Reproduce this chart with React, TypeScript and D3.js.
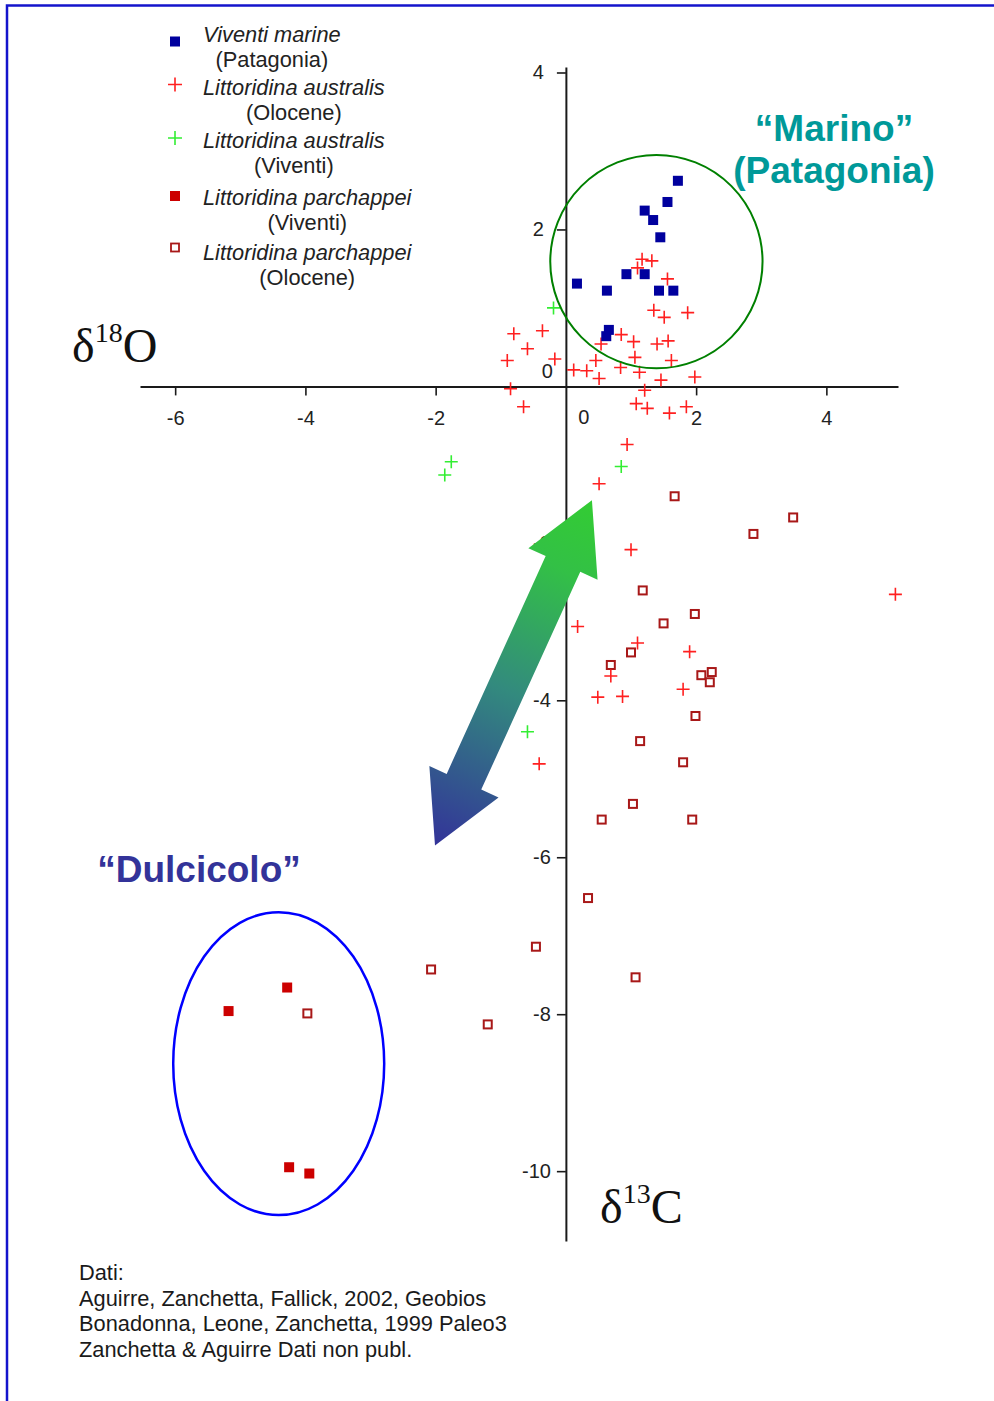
import { useEffect, useRef } from "react";
import * as d3 from "d3";

type Pt = [number, number];

// δ13C (x), δ18O (y)
const viventiMarine: Pt[] = [
  [1.72, 2.62], [1.56, 2.35], [1.21, 2.24], [1.34, 2.12], [1.45, 1.9],
  [0.93, 1.43], [1.21, 1.43], [0.17, 1.31], [0.63, 1.22], [1.43, 1.22],
  [1.65, 1.22], [0.66, 0.72], [0.62, 0.64],
];

const australisOlocene: Pt[] = [
  [1.17, 1.62], [1.32, 1.6], [1.1, 1.51], [1.56, 1.37], [1.35, 0.97],
  [1.51, 0.88], [1.87, 0.94], [-0.8, 0.67], [-0.36, 0.71], [-0.59, 0.48],
  [-0.9, 0.33], [-0.17, 0.35], [-0.85, -0.03], [-0.65, -0.26], [0.85, 0.66],
  [1.04, 0.57], [0.54, 0.54], [1.4, 0.54], [1.57, 0.58], [0.46, 0.33],
  [1.06, 0.37], [1.62, 0.33], [0.12, 0.21], [0.32, 0.2], [0.51, 0.1],
  [0.84, 0.24], [1.13, 0.18], [1.46, 0.08], [1.98, 0.12], [1.21, -0.05],
  [1.08, -0.22], [1.25, -0.28], [1.59, -0.34], [1.85, -0.26], [0.94, -0.74],
  [0.51, -1.24], [1.0, -2.08], [0.18, -3.06], [1.1, -3.27], [1.9, -3.38],
  [0.69, -3.69], [1.8, -3.86], [0.49, -3.96], [0.87, -3.95], [-0.41, -4.81],
  [5.06, -2.65],
];

const australisViventi: Pt[] = [
  [-0.19, 1.0], [-1.76, -0.96], [-1.86, -1.13], [0.85, -1.02], [-0.59, -4.4],
];

const parchappeiViventi: Pt[] = [
  [-4.28, -7.66], [-5.18, -7.96], [-4.25, -9.95], [-3.94, -10.03],
];

const parchappeiOlocene: Pt[] = [
  [1.67, -1.4], [1.18, -2.6], [1.98, -2.9], [1.5, -3.02], [1.0, -3.39],
  [0.69, -3.55], [2.08, -3.68], [2.24, -3.64], [2.21, -3.77], [1.99, -4.2],
  [1.14, -4.52], [1.8, -4.79], [1.03, -5.32], [0.55, -5.52], [1.94, -5.52],
  [2.88, -1.88], [3.49, -1.67], [0.34, -6.52], [-0.46, -7.14], [-2.07, -7.43],
  [1.07, -7.53], [-1.2, -8.13], [-3.97, -7.99],
];

const legendNames = [
  "Viventi marine",
  "Littoridina australis",
  "Littoridina australis",
  "Littoridina parchappei",
  "Littoridina parchappei",
];
const legendSubs = ["(Patagonia)", "(Olocene)", "(Viventi)", "(Viventi)", "(Olocene)"];
const legendKinds = ["blueSq", "redCross", "greenCross", "redSq", "openSq"];

const xTicks = [-6, -4, -2, 2, 4];
const yTicks = [4, 2, -2, -4, -6, -8, -10];
const xExtent: Pt = [-6.54, 5.1];
const yExtent: Pt = [4.07, -10.89];

// annotations in data units
const marineCircle = { cx: 1.39, cy: 1.59, rx: 1.63, ry: 1.36 };
const freshEllipse = { cx: -4.41, cy: -8.63, rx: 1.62, ry: 1.93 };
const arrowFrom: Pt = [-2.01, -5.85];
const arrowTo: Pt = [0.4, -1.45];

const sources = [
  "Dati:",
  "Aguirre, Zanchetta, Fallick, 2002, Geobios",
  "Bonadonna, Leone, Zanchetta, 1999 Paleo3",
  "Zanchetta & Aguirre Dati non publ.",
];

const SANS = "'Liberation Sans', Arial, sans-serif";
const SERIF = "'Liberation Serif', 'Times New Roman', serif";

const C = {
  blue: "#00009e",
  red: "#ff2020",
  green: "#33ee33",
  darkRed: "#cc0000",
  openRed: "#a81818",
  axis: "#1a1a1a",
};

const App = () => {
  const svgRef = useRef<SVGSVGElement | null>(null);

  useEffect(() => {
    document.body.style.margin = "0";
    const width = 994;
    const height = 1401;
    const svg = d3.select(svgRef.current);
    svg.selectAll("*").remove();
    svg.attr("width", width).attr("height", height);

    const x = d3.scaleLinear().domain(xExtent).range([140, 898]);
    const y = d3.scaleLinear().domain(yExtent).range([67, 1241]);

    // frame
    svg
      .append("rect")
      .attr("x", 7)
      .attr("y", 5.5)
      .attr("width", 1100)
      .attr("height", 1500)
      .attr("fill", "white")
      .attr("stroke", "#1414cc")
      .attr("stroke-width", 2.5);

    // ---- AXES ----
    const xAxis = d3
      .axisBottom(x)
      .tickValues(xTicks)
      .tickSize(9)
      .tickSizeOuter(0)
      .tickPadding(15)
      .tickFormat((d) => String(d));
    const gx = svg
      .append("g")
      .attr("transform", `translate(0,${y(0)})`)
      .call(xAxis);

    const yAxis = d3
      .axisLeft(y)
      .tickValues(yTicks)
      .tickSize(9)
      .tickSizeOuter(0)
      .tickPadding(6)
      .tickFormat((d) => String(d));
    const gy = svg
      .append("g")
      .attr("transform", `translate(${x(0)},0)`)
      .call(yAxis);

    [gx, gy].forEach((g) => {
      g.attr("font-family", SANS).attr("font-size", 20);
      g.select(".domain").attr("stroke", C.axis).attr("stroke-width", 2);
      g.selectAll(".tick line").attr("stroke", C.axis).attr("stroke-width", 1.6);
      g.selectAll(".tick text").attr("fill", "#222");
    });
    gy.selectAll<SVGTextElement, number>(".tick text").attr("x", (d) =>
      d > 0 ? -22 : -15
    );

    // zero labels
    svg
      .append("text")
      .attr("x", x(0) + 18)
      .attr("y", y(0) + 38)
      .attr("text-anchor", "middle")
      .attr("font-family", SANS)
      .attr("font-size", 20)
      .attr("fill", "#222")
      .text("0");
    svg
      .append("text")
      .attr("x", x(0) - 13)
      .attr("y", y(0) - 8)
      .attr("text-anchor", "end")
      .attr("font-family", SANS)
      .attr("font-size", 20)
      .attr("fill", "#222")
      .text("0");

    // ---- MARKERS ----
    const squares = (data: Pt[], size: number, fill: string, stroke: string, sw: number) => {
      svg
        .append("g")
        .selectAll("rect")
        .data(data)
        .join("rect")
        .attr("x", (d) => x(d[0]) - size / 2)
        .attr("y", (d) => y(d[1]) - size / 2)
        .attr("width", size)
        .attr("height", size)
        .attr("fill", fill)
        .attr("stroke", stroke)
        .attr("stroke-width", sw);
    };
    const crosses = (data: Pt[], color: string) => {
      const h = 6.5;
      svg
        .append("g")
        .selectAll("path")
        .data(data)
        .join("path")
        .attr("d", (d) => {
          const px = x(d[0]);
          const py = y(d[1]);
          return `M${px - h},${py}H${px + h}M${px},${py - h}V${py + h}`;
        })
        .attr("stroke", color)
        .attr("stroke-width", 1.6)
        .attr("fill", "none");
    };

    squares(parchappeiOlocene, 8, "white", C.openRed, 2);
    crosses(australisOlocene, C.red);
    crosses(australisViventi, C.green);
    squares(viventiMarine, 10, C.blue, "none", 0);
    squares(parchappeiViventi, 10, C.darkRed, "none", 0);

    // ---- CIRCLES ----
    svg
      .append("ellipse")
      .attr("cx", x(marineCircle.cx))
      .attr("cy", y(marineCircle.cy))
      .attr("rx", x(marineCircle.cx + marineCircle.rx) - x(marineCircle.cx))
      .attr("ry", y(marineCircle.cy - marineCircle.ry) - y(marineCircle.cy))
      .attr("fill", "none")
      .attr("stroke", "#008000")
      .attr("stroke-width", 2);
    svg
      .append("ellipse")
      .attr("cx", x(freshEllipse.cx))
      .attr("cy", y(freshEllipse.cy))
      .attr("rx", x(freshEllipse.cx + freshEllipse.rx) - x(freshEllipse.cx))
      .attr("ry", y(freshEllipse.cy - freshEllipse.ry) - y(freshEllipse.cy))
      .attr("fill", "none")
      .attr("stroke", "#0000ff")
      .attr("stroke-width", 2.5);

    // ---- DOUBLE ARROW ----
    const bx = x(arrowFrom[0]);
    const by = y(arrowFrom[1]);
    const tx = x(arrowTo[0]);
    const ty = y(arrowTo[1]);
    const len = Math.hypot(tx - bx, ty - by);
    const ux = (tx - bx) / len;
    const uy = (ty - by) / len;
    const hl = 70;
    const hw = 38;
    const sw = 19;
    const defs = svg.append("defs");
    const grad = defs
      .append("linearGradient")
      .attr("id", "arrowGrad")
      .attr("gradientUnits", "userSpaceOnUse")
      .attr("x1", tx)
      .attr("y1", ty)
      .attr("x2", bx)
      .attr("y2", by);
    grad.append("stop").attr("offset", 0).attr("stop-color", "#33cc33");
    grad.append("stop").attr("offset", 0.2).attr("stop-color", "#33c046");
    grad.append("stop").attr("offset", 0.55).attr("stop-color", "#338a7e");
    grad.append("stop").attr("offset", 1).attr("stop-color", "#333399");
    const local: Pt[] = [
      [0, 0], [hl, -hw], [hl, -sw], [len - hl, -sw], [len - hl, -hw],
      [len, 0], [len - hl, hw], [len - hl, sw], [hl, sw], [hl, hw],
    ];
    const abs = local.map(([a, b]) => [bx + a * ux - b * uy, by + a * uy + b * ux]);
    svg
      .append("polygon")
      .attr("points", abs.map((p) => p.join(",")).join(" "))
      .attr("fill", "url(#arrowGrad)");

    // ---- ANNOTATION TEXT ----
    const big = (lines: string[], cx: number, y0: number, color: string) => {
      lines.forEach((t, i) => {
        svg
          .append("text")
          .attr("x", cx)
          .attr("y", y0 + i * 42)
          .attr("text-anchor", "middle")
          .attr("font-family", SANS)
          .attr("font-weight", "bold")
          .attr("font-size", 37)
          .attr("fill", color)
          .text(t);
      });
    };
    big(["\u201CMarino\u201D", "(Patagonia)"], 834, 141, "#009999");
    big(["\u201CDulcicolo\u201D"], 199, 882, "#333399");

    // axis titles
    const delta = (cx: number, base: number, sup: string, letter: string) => {
      const t = svg
        .append("text")
        .attr("x", cx)
        .attr("y", base)
        .attr("font-family", SERIF)
        .attr("font-size", 48)
        .attr("fill", "#111");
      t.append("tspan").text("δ");
      t.append("tspan").attr("font-size", 28).attr("dy", -20).text(sup);
      t.append("tspan").attr("dy", 20).text(letter);
    };
    delta(72, 362, "18", "O");
    delta(600, 1223, "13", "C");

    // ---- LEGEND ----
    const legY = [42, 95, 148, 205, 260];
    const markY = [41.5, 84.5, 138, 196, 247.5];
    const lg = svg.append("g").attr("font-family", SANS).attr("font-size", 21.8).attr("fill", "#222");
    legendNames.forEach((name, i) => {
      const t1 = lg
        .append("text")
        .attr("x", 203)
        .attr("y", legY[i])
        .attr("font-style", "italic")
        .text(name);
      const w = (t1.node() as SVGTextElement).getComputedTextLength();
      lg.append("text")
        .attr("x", 203 + w / 2)
        .attr("y", legY[i] + 25)
        .attr("text-anchor", "middle")
        .text(legendSubs[i]);
      const kind = legendKinds[i];
      const mx = 175;
      const my = markY[i];
      if (kind === "blueSq" || kind === "redSq") {
        lg.append("rect")
          .attr("x", mx - 5)
          .attr("y", my - 5)
          .attr("width", 10)
          .attr("height", 10)
          .attr("fill", kind === "blueSq" ? C.blue : C.darkRed);
      } else if (kind === "openSq") {
        lg.append("rect")
          .attr("x", mx - 4)
          .attr("y", my - 4)
          .attr("width", 8)
          .attr("height", 8)
          .attr("fill", "white")
          .attr("stroke", C.openRed)
          .attr("stroke-width", 1.8);
      } else {
        lg.append("path")
          .attr("d", `M${mx - 7},${my}H${mx + 7}M${mx},${my - 7}V${my + 7}`)
          .attr("stroke", kind === "redCross" ? C.red : C.green)
          .attr("stroke-width", 1.6);
      }
    });

    // ---- SOURCES ----
    sources.forEach((s, i) => {
      svg
        .append("text")
        .attr("x", 79)
        .attr("y", 1280 + i * 25.5)
        .attr("font-family", SANS)
        .attr("font-size", 21.8)
        .attr("fill", "#1a1a1a")
        .text(s);
    });
  }, []);

  return <svg ref={svgRef} style={{ display: "block" }} />;
};

export default App;
